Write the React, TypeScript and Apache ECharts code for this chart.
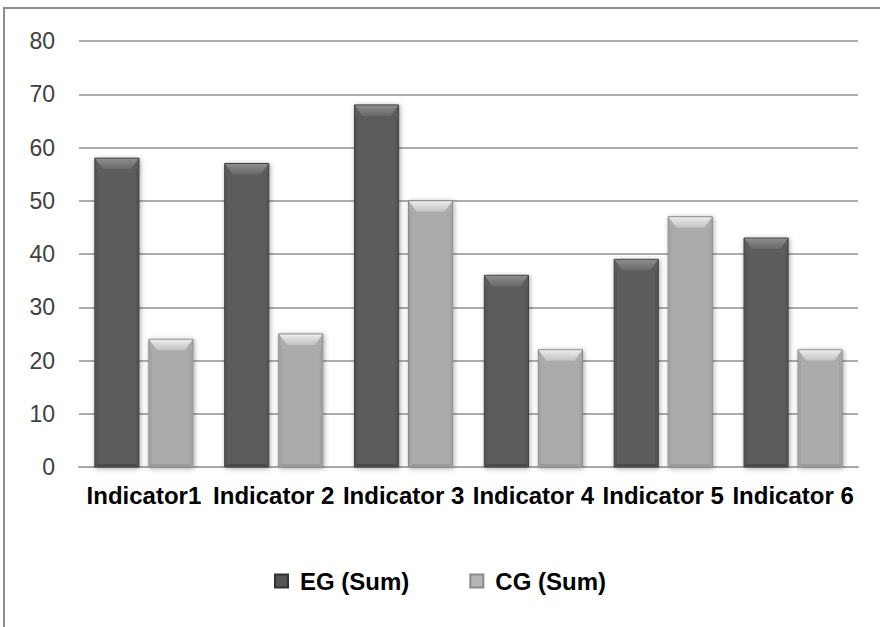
import React, { useEffect, useRef } from "react";
import * as echarts from "echarts";

const categories = ["Indicator1", "Indicator 2", "Indicator 3", "Indicator 4", "Indicator 5", "Indicator 6"];
const egValues = [58, 57, 68, 36, 39, 43];
const cgValues = [24, 25, 50, 22, 47, 22];
const seriesNames = ["EG (Sum)", "CG (Sum)"];
const yTicks = { min: 0, max: 80, interval: 10 };

type Palette = { border: string; main: string; topA: string; topB: string; side: string; bottom: string };

const darkPal: Palette = { border: "#3e3e3e", main: "#5c5c5c", topA: "#8e8e8e", topB: "#686868", side: "#545454", bottom: "#4a4a4a" };
const lightPal: Palette = { border: "#8a8a8a", main: "#ababab", topA: "#ebebeb", topB: "#c2c2c2", side: "#a3a3a3", bottom: "#9a9a9a" };

function makeRender(offsetFrac: number, pal: Palette) {
  return (params: any, api: any) => {
    const idx = api.value(0);
    const v = api.value(1);
    const p0 = api.coord([idx, 0]);
    const p1 = api.coord([idx, v]);
    const band = api.size([1, 0])[0];
    const w = band * 0.34;
    const cx = p0[0] + band * offsetFrac;
    const x0 = cx - w / 2;
    const x1 = cx + w / 2;
    const yb = p0[1];
    const yt = p1[1];
    const h = yb - yt;
    const bev = Math.min(11, h / 2);
    const inset = 8;
    const sideInset = 3;
    return {
      type: "group",
      children: [
        {
          type: "rect",
          shape: { x: x0, y: yt, width: w, height: h },
          style: {
            fill: pal.main,
            stroke: pal.border,
            lineWidth: 1,
            shadowBlur: 5,
            shadowColor: "rgba(0,0,0,0.35)",
            shadowOffsetX: 1,
            shadowOffsetY: 1,
          },
        },
        {
          type: "polygon",
          shape: { points: [[x0 + 0.5, yt + bev], [x0 + sideInset, yt + bev], [x0 + sideInset, yb - 2], [x0 + 0.5, yb]] },
          style: { fill: pal.side },
        },
        {
          type: "polygon",
          shape: { points: [[x1 - 0.5, yt + bev], [x1 - sideInset, yt + bev], [x1 - sideInset, yb - 2], [x1 - 0.5, yb]] },
          style: { fill: pal.side },
        },
        {
          type: "polygon",
          shape: { points: [[x0 + 0.5, yb - 0.5], [x1 - 0.5, yb - 0.5], [x1 - sideInset, yb - 3], [x0 + sideInset, yb - 3]] },
          style: { fill: pal.bottom },
        },
        {
          type: "polygon",
          shape: { points: [[x0 + 0.5, yt + 0.5], [x1 - 0.5, yt + 0.5], [x1 - inset, yt + bev], [x0 + inset, yt + bev]] },
          style: {
            fill: new echarts.graphic.LinearGradient(0, 0, 0, 1, [
              { offset: 0, color: pal.topA },
              { offset: 1, color: pal.topB },
            ]),
          },
        },
      ],
    };
  };
}

export default function App() {
  const ref = useRef<HTMLDivElement>(null);
  useEffect(() => {
    if (!ref.current) return;
    const chart = echarts.init(ref.current, null, { renderer: "svg" });
    const labelFont = "'Liberation Sans', Arial, sans-serif";
    chart.setOption({
      animation: false,
      backgroundColor: "#ffffff",
      grid: { left: 79, right: 22, top: 41, bottom: 160, containLabel: false },
      xAxis: {
        type: "category",
        data: categories,
        axisLine: { show: true, lineStyle: { color: "#a8a8a8", width: 2 } },
        axisTick: { show: false },
        axisLabel: {
          interval: 0,
          margin: 16,
          color: "#000000",
          fontFamily: labelFont,
          fontWeight: "bold",
          fontSize: 24,
        },
      },
      yAxis: {
        type: "value",
        min: yTicks.min,
        max: yTicks.max,
        interval: yTicks.interval,
        axisLine: { show: false },
        axisTick: { show: false },
        splitLine: { lineStyle: { color: "#acacac", width: 2 } },
        axisLabel: {
          margin: 24,
          color: "#404040",
          fontFamily: "'Liberation Sans', Arial, sans-serif",
          fontSize: 23,
        },
      },
      legend: {
        data: seriesNames,
        bottom: 29,
        left: "center",
        icon: "rect",
        itemWidth: 13,
        itemHeight: 13,
        itemGap: 60,
        textStyle: {
          color: "#000000",
          fontFamily: labelFont,
          fontWeight: "bold",
          fontSize: 24,
          padding: [0, 0, 0, 7],
        },
      },
      series: [
        {
          name: seriesNames[0],
          type: "custom",
          renderItem: makeRender(-0.208, darkPal),
          encode: { x: 0, y: 1 },
          itemStyle: { color: "#555555", borderColor: "#333333", borderWidth: 1 },
          data: egValues.map((v, i) => [i, v]),
          z: 3,
        },
        {
          name: seriesNames[1],
          type: "custom",
          renderItem: makeRender(0.208, lightPal),
          encode: { x: 0, y: 1 },
          itemStyle: { color: "#b5b5b5", borderColor: "#8a8a8a", borderWidth: 1 },
          data: cgValues.map((v, i) => [i, v]),
          z: 3,
        },
      ],
      graphic: [
        {
          type: "rect",
          shape: { x: 4, y: 8, width: 900, height: 700 },
          style: { fill: "none", stroke: "#8c8c8c", lineWidth: 2 },
          silent: true,
          z: 10,
        },
      ],
    });
    return () => chart.dispose();
  }, []);
  return <div ref={ref} style={{ position: "fixed", left: 0, top: 0, width: 880, height: 627 }} />;
}
